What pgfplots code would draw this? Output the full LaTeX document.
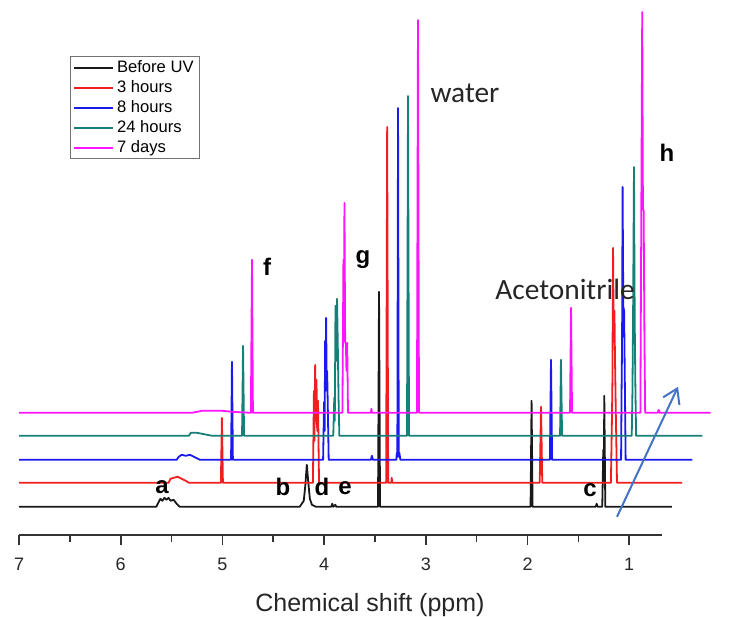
\documentclass[border=0pt]{standalone}
\usepackage{pgfplots}
\pgfplotsset{compat=1.18}
\usetikzlibrary{arrows.meta}
\usepackage{fontspec}
\setmainfont{Liberation Sans}
\newfontfamily\calib{Carlito}

\definecolor{cBlack}{RGB}{25,25,25}
\definecolor{cRed}{RGB}{240,30,30}
\definecolor{cBlue}{RGB}{25,25,240}
\definecolor{cTeal}{RGB}{20,128,120}
\definecolor{cMag}{RGB}{255,20,255}
\definecolor{cArrow}{RGB}{68,114,196}

\begin{document}
\begin{tikzpicture}
\begin{axis}[
  scale only axis,
  width=321.5bp, height=267.5bp,
  x dir=reverse,
  xmin=0.68, xmax=7,
  ymin=6, ymax=541,
  clip=false,
  axis x line=bottom,
  axis y line=none,
  x axis line style={-, line width=1bp, draw=black!80},
  xtick={1,2,3,4,5,6,7},
  minor x tick num=1,
  tick align=outside,
  major tick length=5bp,
  minor tick length=3.5bp,
  every tick/.style={line width=0.8bp, draw=black!80},
  /pgf/number format/assume math mode=true,
  xticklabel style={font=\fontsize{9bp}{10bp}\selectfont, text=black!85, yshift=-3bp},
  xlabel={Chemical shift (ppm)},
  xlabel style={font=\fontsize{12.5bp}{14bp}\selectfont, text=black!85,
    at={(axis description cs:0.546,0)}, anchor=base, yshift=-38.5bp},
  legend style={at={(rel axis cs:0.079,0.895)}, anchor=north west,
    draw=black!55, line width=0.5bp, fill=white,
    font=\fontsize{8.3bp}{10bp}\selectfont,
    row sep=0pt, inner xsep=1.5bp, inner ysep=0.5bp,
    nodes={inner xsep=1.5bp, inner ysep=0.5bp, text height=6.8bp, text depth=2.2bp}},
  legend cell align=left,
  legend image code/.code={\draw[#1, line width=0.9bp] (0bp,0bp) -- (19.5bp,0bp);},
  every axis plot/.append style={line width=0.9bp, line join=round},
]
% Before UV (baseline 34)
\addplot[cBlack] coordinates {
(7.0,34)(5.65,34)(5.63,38)(5.61,42)(5.59,40)(5.57,43)(5.55,41)(5.53,43)(5.51,40)(5.48,41)(5.45,37)(5.42,34)
(4.24,34)(4.20,40)(4.185,55)(4.17,76)(4.155,58)(4.14,42)(4.12,36)(4.08,34)
(3.93,34)(3.92,37)(3.91,34)(3.89,36)(3.88,34)
(3.47,34)(3.46,249)(3.45,34)
(1.97,34)(1.96,140)(1.95,34)
(1.33,34)(1.32,37)(1.31,34)
(1.265,34)(1.255,91)(1.25,60)(1.245,145)(1.235,34)
(0.58,34)};
% 3 hours (baseline 58)
\addplot[cRed] coordinates {
(7.0,58)(5.53,58)(5.51,62)(5.48,63)(5.44,64)(5.40,62)(5.36,60)(5.33,58)
(5.015,58)(5.005,123)(4.995,58)
(4.11,58)(4.10,150)(4.095,100)(4.088,176)(4.082,120)(4.075,161)(4.068,110)(4.06,140)(4.05,58)
(3.39,58)(3.38,414)(3.37,58)
(3.34,58)(3.335,63)(3.33,58)
(1.88,58)(1.867,134)(1.855,58)
(1.18,58)(1.17,120)(1.165,160)(1.159,293)(1.152,200)(1.145,230)(1.14,184)(1.132,130)(1.12,58)
(0.48,58)};
% 8 hours (baseline 81)
\addplot[cBlue] coordinates {
(7.0,81)(5.45,81)(5.43,84)(5.40,86)(5.36,85)(5.32,86)(5.28,84)(5.24,82)(5.22,81)
(4.915,81)(4.906,179)(4.897,81)
(4.01,81)(4.00,139)(3.995,110)(3.99,200)(3.985,150)(3.98,223)(3.975,160)(3.97,170)(3.963,130)(3.955,81)
(3.54,81)(3.53,85)(3.52,81)
(3.29,81)(3.285,88)(3.28,84)(3.273,433)(3.266,84)(3.26,88)(3.25,81)
(1.78,81)(1.769,181)(1.758,81)
(1.08,81)(1.075,150)(1.07,200)(1.065,354)(1.058,234)(1.05,230)(1.043,160)(1.035,81)
(0.38,81)};
% 24 hours (baseline 105)
\addplot[cTeal] coordinates {
(7.0,105)(5.33,105)(5.31,108)(5.25,108)(5.20,107)(5.15,106)(5.10,105)
(4.807,105)(4.797,195)(4.787,105)
(3.91,105)(3.90,143)(3.895,120)(3.888,235)(3.88,180)(3.873,242)(3.866,200)(3.858,143)(3.85,105)
(3.185,105)(3.175,445)(3.165,105)
(1.68,105)(1.671,181)(1.66,105)
(0.975,105)(0.968,150)(0.962,223)(0.953,374)(0.946,223)(0.94,160)(0.932,105)
(0.28,105)};
% 7 days (baseline 128)
\addplot[cMag] coordinates {
(7.0,128)(5.30,128)(5.2,130)(5.0,130)(4.9,129)(4.72,128)
(4.72,128)(4.709,281)(4.70,128)
(3.82,128)(3.81,281)(3.805,200)(3.80,338)(3.793,198)(3.786,198)(3.78,170)(3.773,198)(3.765,128)
(3.54,128)(3.535,132)(3.53,128)
(3.087,128)(3.077,521)(3.067,128)
(1.582,128)(1.572,233)(1.562,128)
(0.89,128)(0.88,351)(0.872,529)(0.865,331)(0.858,331)(0.85,200)(0.843,128)
(0.72,128)(0.71,131)(0.70,128)
(0.2,128)};
\legend{Before UV,3 hours,8 hours,24 hours,7 days}

\draw[cArrow, line width=1bp, -{Straight Barb[length=7bp, width=9bp]}]
  (axis cs:1.120,24) -- (axis cs:0.520,154);

\begin{scope}[font=\fontsize{12bp}{14bp}\selectfont\bfseries]
\node at (axis cs:5.594,54) {a};
\node at (axis cs:4.404,54) {b};
\node at (axis cs:4.021,54) {d};
\node at (axis cs:3.794,53) {e};
\node at (axis cs:1.385,51) {c};
\node at (axis cs:4.561,274) {f};
\node at (axis cs:3.618,281) {g};
\node at (axis cs:0.628,388) {h};
\end{scope}
\node[font=\calib\fontsize{14.7bp}{16bp}\selectfont, text=black!85] at (axis cs:2.615,448) {water};
\node[font=\calib\fontsize{14.7bp}{16bp}\selectfont, text=black!85] at (axis cs:1.631,251) {Acetonitrile};

\coordinate (bbA) at (axis cs:7.187,-76);
\coordinate (bbB) at (axis cs:-0.05,541);
\end{axis}
\pgfresetboundingbox
\path[use as bounding box] (bbA) rectangle (bbB);
\end{tikzpicture}
\end{document}
